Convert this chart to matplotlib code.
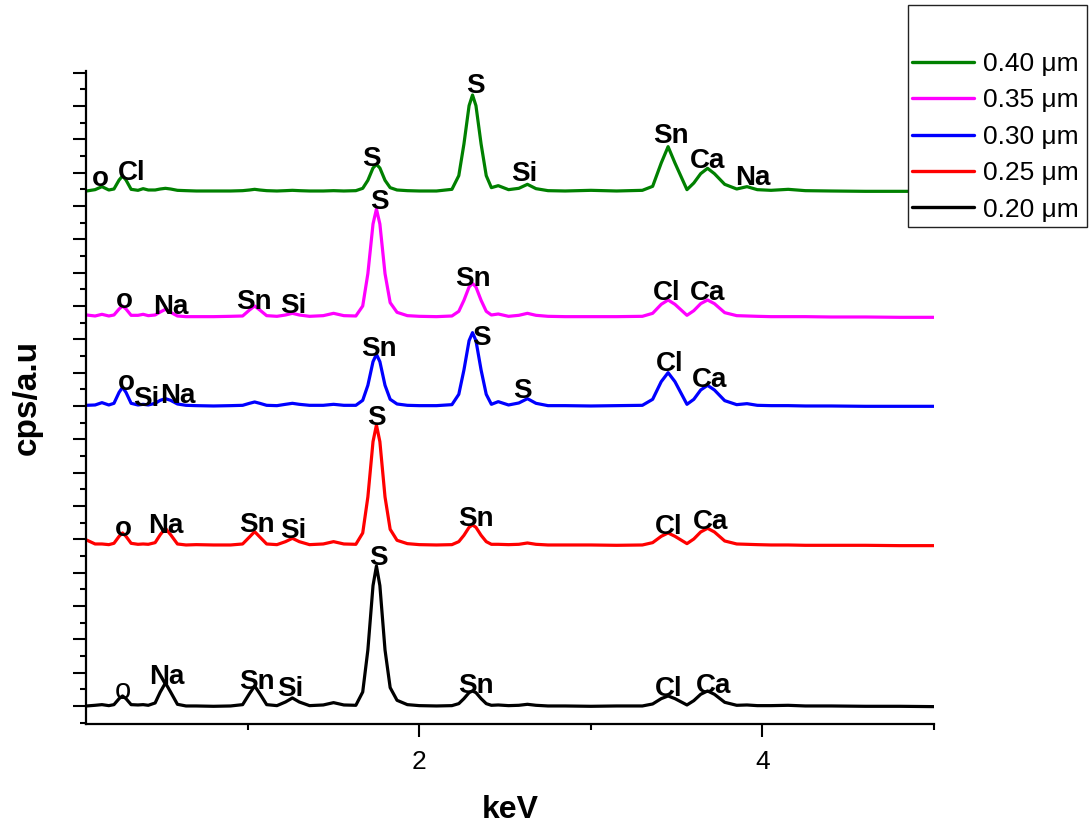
import matplotlib
matplotlib.use("Agg")
import matplotlib.pyplot as plt
from matplotlib.patches import Rectangle
from matplotlib.ticker import MultipleLocator, NullFormatter

plt.rcParams['font.family'] = ['Liberation Sans', 'DejaVu Sans']

# ---------------- data ----------------
energy = [0.06, 0.11, 0.15, 0.19, 0.22, 0.25, 0.27, 0.29, 0.32, 0.36,
          0.39, 0.42, 0.46, 0.49, 0.52, 0.55, 0.59, 0.64, 0.70, 0.80,
          0.90, 0.97, 1.01, 1.04, 1.07, 1.11, 1.17, 1.22, 1.26, 1.30,
          1.36, 1.44, 1.50, 1.56, 1.63, 1.67, 1.70, 1.73, 1.75, 1.77,
          1.80, 1.83, 1.87, 1.93, 2.00, 2.10, 2.19, 2.23, 2.26, 2.29,
          2.31, 2.33, 2.36, 2.39, 2.42, 2.46, 2.52, 2.58, 2.63, 2.68,
          2.75, 2.85, 3.00, 3.15, 3.30, 3.36, 3.41, 3.45, 3.49, 3.56,
          3.60, 3.64, 3.68, 3.72, 3.78, 3.85, 3.91, 3.97, 4.05, 4.15,
          4.25, 4.40, 4.60, 4.80, 5.00]

cps_020 = [0.00, 0.02, 0.04, 0.01, 0.04, 0.22, 0.30, 0.22, 0.04, 0.03,
           0.04, 0.02, 0.09, 0.42, 0.69, 0.42, 0.05, 0.00, 0.00, -0.01,
           0.00, 0.04, 0.37, 0.60, 0.37, 0.04, 0.01, 0.12, 0.24, 0.12,
           0.01, 0.03, 0.10, 0.03, 0.02, 0.42, 1.68, 3.61, 4.20, 3.61,
           1.68, 0.55, 0.17, 0.04, 0.01, 0.00, 0.01, 0.07, 0.22, 0.40,
           0.45, 0.40, 0.22, 0.07, 0.02, 0.03, 0.01, 0.02, 0.05, 0.02,
           0.00, 0.00, -0.01, 0.00, 0.00, 0.06, 0.22, 0.30, 0.22, 0.03,
           0.16, 0.35, 0.45, 0.35, 0.11, 0.02, 0.03, 0.01, 0.01, 0.02,
           0.00, 0.00, -0.01, -0.01, -0.02]

cps_025 = [0.15, 0.03, 0.03, 0.01, 0.05, 0.26, 0.36, 0.26, 0.05, 0.02,
           0.03, 0.02, 0.07, 0.31, 0.50, 0.31, 0.03, 0.00, 0.01, 0.00,
           0.00, 0.03, 0.24, 0.40, 0.24, 0.03, 0.01, 0.10, 0.20, 0.10,
           0.01, 0.03, 0.10, 0.03, 0.02, 0.36, 1.44, 3.10, 3.60, 3.10,
           1.44, 0.47, 0.14, 0.04, 0.01, 0.00, 0.01, 0.10, 0.29, 0.53,
           0.60, 0.53, 0.29, 0.10, 0.02, 0.02, 0.01, 0.02, 0.06, 0.02,
           0.00, 0.00, 0.00, -0.01, 0.00, 0.07, 0.26, 0.36, 0.26, 0.04,
           0.18, 0.39, 0.50, 0.39, 0.12, 0.03, 0.02, 0.01, 0.00, 0.00,
           -0.01, -0.01, -0.01, -0.02, -0.02]

cps_030 = [0.02, 0.03, 0.10, 0.03, 0.08, 0.41, 0.56, 0.41, 0.08, 0.03,
           0.05, 0.03, 0.08, 0.17, 0.22, 0.17, 0.06, 0.02, 0.01, 0.00,
           0.01, 0.02, 0.08, 0.12, 0.08, 0.02, 0.01, 0.05, 0.08, 0.05,
           0.02, 0.02, 0.05, 0.02, 0.02, 0.17, 0.62, 1.33, 1.55, 1.33,
           0.62, 0.20, 0.06, 0.02, 0.01, 0.01, 0.04, 0.35, 1.08, 1.96,
           2.20, 1.96, 1.08, 0.35, 0.05, 0.13, 0.03, 0.09, 0.22, 0.08,
           0.01, 0.01, 0.00, 0.01, 0.02, 0.20, 0.73, 1.00, 0.73, 0.05,
           0.20, 0.48, 0.62, 0.48, 0.16, 0.04, 0.07, 0.02, 0.01, 0.01,
           0.00, 0.00, -0.01, -0.01, -0.01]

cps_035 = [0.05, 0.02, 0.07, 0.02, 0.05, 0.23, 0.32, 0.23, 0.04, 0.04,
           0.07, 0.03, 0.05, 0.14, 0.22, 0.13, 0.02, 0.00, 0.00, 0.00,
           0.01, 0.02, 0.20, 0.32, 0.20, 0.03, 0.01, 0.05, 0.10, 0.05,
           0.01, 0.03, 0.10, 0.03, 0.02, 0.32, 1.29, 2.78, 3.23, 2.78,
           1.29, 0.42, 0.13, 0.03, 0.01, 0.00, 0.02, 0.16, 0.49, 0.89,
           1.00, 0.89, 0.49, 0.16, 0.05, 0.08, 0.01, 0.04, 0.10, 0.04,
           0.01, 0.00, 0.00, 0.00, 0.01, 0.10, 0.37, 0.50, 0.37, 0.04,
           0.18, 0.39, 0.50, 0.39, 0.12, 0.03, 0.02, 0.01, 0.00, 0.00,
           0.00, -0.01, -0.01, -0.02, -0.02]

cps_040 = [0.00, 0.04, 0.13, 0.03, 0.06, 0.33, 0.45, 0.33, 0.05, 0.02,
           0.07, 0.03, 0.03, 0.06, 0.08, 0.06, 0.02, 0.01, 0.00, 0.00,
           0.00, 0.01, 0.03, 0.05, 0.03, 0.01, 0.00, 0.01, 0.02, 0.01,
           0.00, 0.00, 0.01, 0.00, 0.01, 0.08, 0.32, 0.69, 0.80, 0.69,
           0.32, 0.10, 0.03, 0.01, 0.00, 0.00, 0.05, 0.46, 1.41, 2.56,
           2.88, 2.56, 1.41, 0.46, 0.10, 0.16, 0.04, 0.08, 0.20, 0.07,
           0.01, 0.00, 0.02, 0.00, 0.02, 0.14, 0.84, 1.33, 0.84, 0.04,
           0.24, 0.52, 0.68, 0.52, 0.20, 0.06, 0.13, 0.04, 0.02, 0.05,
           0.01, 0.00, -0.01, -0.01, -0.01]

series_names = ["0.20 \u03bcm", "0.25 \u03bcm", "0.30 \u03bcm", "0.35 \u03bcm", "0.40 \u03bcm"]
series_values = [cps_020, cps_025, cps_030, cps_035, cps_040]
stack_offsets = [0.0, 4.83, 9.0, 11.68, 15.45]
series_colors = ["#000000", "#FF0000", "#0000FF", "#FF00FF", "#008000"]

# peak annotations (element, energy keV, stacked intensity)
peak_labels = [
    [("o", 0.274, 0.48), ("Na", 0.527, 0.96), ("Sn", 1.055, 0.80), ("Si", 1.246, 0.58),
     ("S", 1.763, 4.53), ("Sn", 2.331, 0.68), ("Cl", 3.452, 0.58), ("Ca", 3.714, 0.68)],
    [("o", 0.274, 5.40), ("Na", 0.523, 5.48), ("Sn", 1.055, 5.50), ("Si", 1.264, 5.34),
     ("S", 1.748, 8.73), ("Sn", 2.331, 5.68), ("Cl", 3.452, 5.46), ("Ca", 3.695, 5.60)],
    [("o", 0.290, 9.76), ("Si", 0.410, 9.30), ("Na", 0.595, 9.38), ("Sn", 1.765, 10.80),
     ("S", 2.364, 11.13), ("S", 2.601, 9.53), ("Cl", 3.458, 10.35), ("Ca", 3.691, 9.85)],
    [("o", 0.278, 12.23), ("Na", 0.550, 12.06), ("Sn", 1.036, 12.20), ("Si", 1.264, 12.09),
     ("S", 1.765, 15.20), ("Sn", 2.315, 12.90), ("Cl", 3.443, 12.46), ("Ca", 3.682, 12.46)],
    [("o", 0.139, 15.90), ("Cl", 0.323, 16.08), ("S", 1.718, 16.48), ("S", 2.329, 18.68),
     ("Si", 2.612, 16.05), ("Sn", 3.466, 17.18), ("Ca", 3.679, 16.43), ("Na", 3.944, 15.93)],
]

x_label = "keV"
y_label = "cps/a.u"

# ---------------- figure ----------------
fig = plt.figure(figsize=(10.9, 8.25), dpi=100)
ax = fig.add_axes([86 / 1090, 100.7 / 825, 848 / 1090, 653.3 / 825])

lines = []
for vals, off, col, name in zip(series_values, stack_offsets, series_colors, series_names):
    ys = [v + off for v in vals]
    ln, = ax.plot(energy, ys, color=col, lw=2.3, label=name,
                  solid_joinstyle='round', solid_capstyle='round')
    lines.append(ln)

for group in peak_labels:
    for txt, xv, yv in group:
        if txt == "o" and yv < 1:
            ax.text(xv, yv - 0.04, txt, ha='center', va='center', fontsize=21,
                    fontweight='normal', color='black')
        else:
            ax.text(xv, yv - 0.08, txt, ha='center', va='center', fontsize=20,
                    fontweight='bold', color='black')

ax.set_xlim(0.057, 5.0)
ax.set_ylim(-0.55, 19.05)

ax.spines['top'].set_visible(False)
ax.spines['right'].set_visible(False)
ax.spines['left'].set_linewidth(1.6)
ax.spines['bottom'].set_linewidth(1.6)

ax.xaxis.set_major_locator(MultipleLocator(2))
ax.xaxis.set_minor_locator(MultipleLocator(1))
ax.yaxis.set_major_locator(MultipleLocator(1))
ax.yaxis.set_minor_locator(MultipleLocator(0.5))
ax.yaxis.set_major_formatter(NullFormatter())
ax.tick_params(axis='both', which='major', direction='out', length=9.5, width=1.5)
ax.tick_params(axis='both', which='minor', direction='out', length=4.5, width=1.5)
ax.tick_params(axis='x', which='major', labelsize=19, pad=9)
ax.tick_params(axis='y', which='both', labelleft=False)

ax.set_xlabel(x_label, fontsize=23, fontweight='bold')
ax.set_ylabel(y_label, fontsize=24, fontweight='bold')
ax.xaxis.set_label_coords(0.5, -0.108)
ax.yaxis.set_label_coords(-0.051, 0.5)

# legend box
box = Rectangle((908 / 1090, 1 - 227 / 825), 179 / 1090, 222 / 825,
                transform=fig.transFigure, facecolor='white', edgecolor='#222222',
                lw=1.0, zorder=3)
fig.add_artist(box)
leg = fig.legend(handles=lines[::-1], labels=series_names[::-1], loc='upper left',
                 bbox_to_anchor=(912 / 1090, 1 - 52 / 825), frameon=False,
                 fontsize=19, handlelength=2.35, handletextpad=0.34,
                 labelspacing=0.47, borderpad=0, borderaxespad=0)
for lh in leg.get_lines():
    lh.set_linewidth(2.4)
leg.set_zorder(4)

fig.savefig("out.png", dpi=100)
